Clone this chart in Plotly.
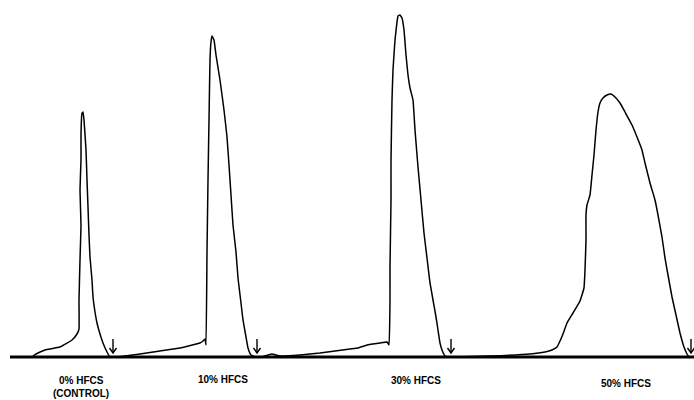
import plotly.graph_objects as go

# Trace of the recorder curve (horizontal position, pixel-row of the pen)
BASE_ROW = 357
trace_x = [33, 36, 45, 60, 72, 77, 79, 79, 80, 81, 80, 81, 81, 82, 83, 84, 86, 87, 88, 89, 90, 92, 93, 95, 97, 100, 103, 107, 110,
           115, 125, 140, 160, 180, 200, 203, 205,
           206, 207, 208, 209, 210, 211, 212, 214, 216, 220, 224, 227, 229, 231, 233, 236, 238, 241, 243, 246, 248, 251,
           256, 262, 268, 272, 280, 300, 320, 335, 350, 358, 367, 380, 387, 389,
           390, 390, 391, 391, 392, 393, 395, 397, 398, 400, 402, 404, 406, 408, 410, 413, 415, 418, 421, 424, 427, 430, 433, 436, 438, 440, 442, 445,
           450, 455, 490, 530, 545, 552, 557, 560, 563, 567, 573, 580, 584, 585, 586, 586, 587, 590, 592, 594, 596, 598, 600, 603, 607, 611, 615,
           620, 625, 632, 637, 642, 645, 650, 655, 658, 662, 665, 668, 672, 676, 680, 684, 687, 690]
trace_row = [356, 354, 350, 347, 340, 334, 329, 300, 260, 225, 190, 160, 135, 113, 112, 120, 150, 180, 207, 235, 257, 280, 297, 312, 323, 334, 343, 352, 357,
             357, 356, 354, 351, 348, 343, 341, 339,
             345, 253, 180, 120, 60, 42, 36, 40, 55, 80, 110, 137, 165, 195, 225, 252, 278, 303, 320, 337, 348, 355,
             357, 357, 355, 354, 356, 355, 353, 351, 349, 348, 345, 343, 342, 345,
             300, 267, 200, 160, 100, 70, 40, 22, 16, 15, 18, 30, 55, 75, 88, 100, 130, 167, 200, 233, 258, 283, 300, 317, 330, 343, 350, 356,
             357, 357, 356, 354, 352, 350, 347, 341, 334, 323, 313, 301, 288, 270, 240, 215, 205, 195, 175, 155, 130, 112, 103, 98, 95, 94, 97,
             103, 112, 125, 137, 150, 163, 183, 200, 215, 237, 258, 275, 297, 315, 333, 347, 354, 358]
trace_y = [BASE_ROW - r for r in trace_row]

arrow_x = [113, 257, 451, 691]
labels = ["0% HFCS", "10% HFCS", "30% HFCS", "50% HFCS"]
label_x = [81, 223, 416, 626]
label_y = [-23, -22, -23, -26]
sub_label = "(CONTROL)"

fig = go.Figure()

# baseline
fig.add_trace(go.Scatter(x=[10, 694], y=[0, 0], mode="lines",
                         line=dict(color="black", width=3), hoverinfo="skip"))
# curve
fig.add_trace(go.Scatter(x=trace_x, y=trace_y, mode="lines",
                         line=dict(color="black", width=1.5, shape="spline", smoothing=0.3),
                         hoverinfo="skip"))
# arrows
ax, ay = [], []
for a in arrow_x:
    ax += [a, a, None, a - 3.5, a, a + 3.5, None]
    ay += [18, 4, None, 9, 4, 9, None]
fig.add_trace(go.Scatter(x=ax, y=ay, mode="lines",
                         line=dict(color="black", width=1.4), hoverinfo="skip"))

font = dict(family="Liberation Sans", size=10, color="black")
for t, x, y in zip(labels, label_x, label_y):
    fig.add_annotation(x=x, y=y, text="<b>" + t + "</b>", showarrow=False,
                       xanchor="center", yanchor="middle", font=font)
fig.add_annotation(x=label_x[0], y=label_y[0] - 13, text="<b>" + sub_label + "</b>", showarrow=False,
                   xanchor="center", yanchor="middle", font=font)

fig.update_layout(
    width=694, height=400, margin=dict(l=0, r=0, t=0, b=0),
    paper_bgcolor="white", plot_bgcolor="white", showlegend=False,
    xaxis=dict(range=[0, 694], visible=False, fixedrange=True),
    yaxis=dict(range=[-43, 357], visible=False, fixedrange=True),
)
fig.write_html("out.html", config={"displayModeBar": False},
               post_script="document.body.style.margin='0px';document.body.style.overflow='hidden';")
